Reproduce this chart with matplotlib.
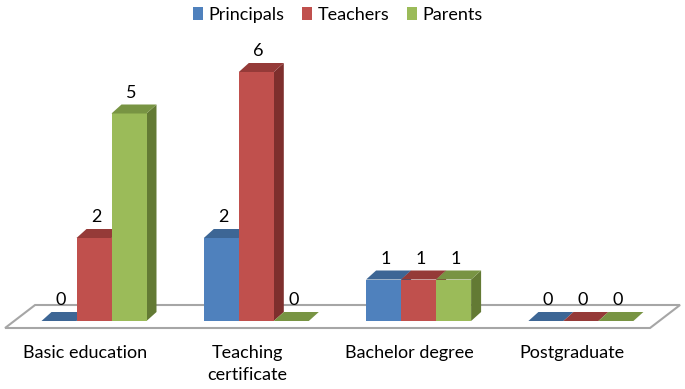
import matplotlib.pyplot as plt
from matplotlib.patches import Polygon, Patch

categories = ["Basic education", "Teaching\ncertificate", "Bachelor degree", "Postgraduate"]
series = ["Principals", "Teachers", "Parents"]
principals = [0, 2, 1, 0]
teachers = [2, 6, 1, 0]
parents = [5, 0, 1, 0]

front_cols = ["#4F81BD", "#C0504D", "#9BBB59"]
top_cols = ["#3D6695", "#953A38", "#789443"]
side_cols = ["#33557D", "#7E2F2D", "#637A34"]

plt.rcParams['font.family'] = ['Lato', 'DejaVu Sans']

fig = plt.figure(figsize=(6.85, 3.89), dpi=100)
ax = fig.add_axes([0, 0, 1, 1])
# pixel -> data mapping: category i centre at 94 + 162.3*i px, value 0 at y=321 px, 41.5 px per unit
px_x, px_y = 162.3, 41.5
ax.set_xlim(-94 / px_x, (685 - 94) / px_x)
ax.set_ylim((321 - 389) / px_y, 321 / px_y)
ax.axis("off")

w = 35 / px_x
ddx, ddy = 10 / px_x, 9 / px_y

# floor
fdx, fdy = 30 / px_x, 23 / px_y
f_front = -7 / px_y
fl, fr = -0.548, 3.426
ax.add_patch(Polygon([(fl, f_front), (fr, f_front), (fr + fdx, f_front + fdy),
                      (fl + fdx, f_front + fdy)], closed=True, facecolor="white",
                     edgecolor="#A6A6A6", lw=1.5, zorder=1))

data = [principals, teachers, parents]
for i, cat in enumerate(categories):
    for s in range(3):
        v = data[s][i]
        x0 = i - 1.5 * w + s * w
        if v > 0:
            ax.add_patch(Polygon([(x0 + w, 0), (x0 + w + ddx, ddy), (x0 + w + ddx, v + ddy), (x0 + w, v)],
                                 closed=True, facecolor=side_cols[s], edgecolor="none", zorder=2 + s))
            ax.bar(x0, v, width=w, align="edge", color=front_cols[s], zorder=2 + s)
        ax.add_patch(Polygon([(x0, v), (x0 + w, v), (x0 + w + ddx, v + ddy), (x0 + ddx, v + ddy)],
                             closed=True, facecolor=top_cols[s], edgecolor="none", zorder=2 + s))
        ax.text(x0 + w / 2 + ddx * 0.2, v + 21 / px_y, str(v), ha="center", va="center",
                fontsize=13, color="black", zorder=10)
    ax.text(i - 9 / px_x, (321 - 345) / px_y, cat, ha="center", va="top", fontsize=13,
            linespacing=1.45)

handles = [Patch(facecolor=c, edgecolor="none") for c in front_cols]
fig.legend(handles, series, loc="upper center", bbox_to_anchor=(0.493, 1.025), ncol=3,
           frameon=False, fontsize=13, handlelength=0.55, handleheight=0.75,
           handletextpad=0.3, columnspacing=1.0)

fig.savefig("out.png", dpi=100)
